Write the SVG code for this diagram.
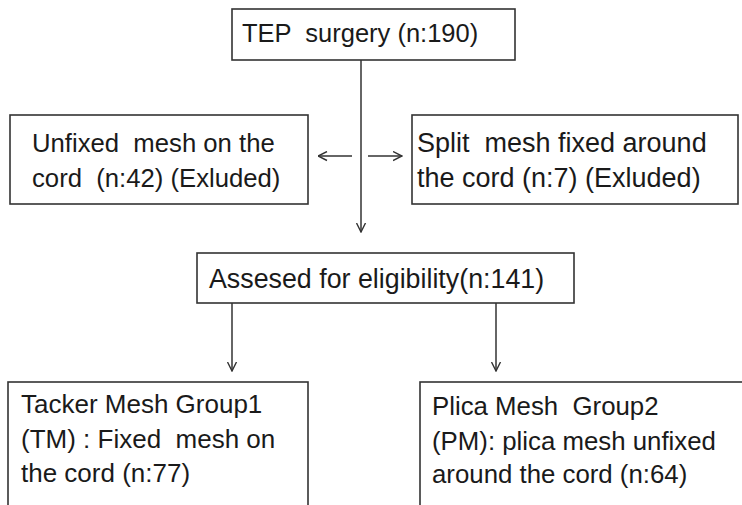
<svg xmlns="http://www.w3.org/2000/svg" width="742" height="505" viewBox="0 0 742 505">
<defs>
<style>
.box{fill:#fff;stroke:#333;stroke-width:1.6}
.t{font-family:"Liberation Sans",Arial,sans-serif;fill:#1a1a1a}
.c{stroke:#333;stroke-width:1.5;fill:none}
</style>
<marker id="ah" viewBox="0 0 10 10" refX="9.5" refY="5" markerWidth="10" markerHeight="11" markerUnits="userSpaceOnUse" orient="auto">
<path d="M0.5,0.5 L9.5,5 L0.5,9.5" fill="none" stroke="#333" stroke-width="1.4"/>
</marker>
</defs>
<rect width="742" height="505" fill="#fff"/>
<g id="connectors">
<line class="c" x1="361" y1="60" x2="361" y2="232" marker-end="url(#ah)"/>
<line class="c" x1="352" y1="156" x2="318" y2="156" marker-end="url(#ah)"/>
<line class="c" x1="368" y1="156" x2="402" y2="156" marker-end="url(#ah)"/>
<line class="c" x1="232" y1="303" x2="232" y2="371" marker-end="url(#ah)"/>
<line class="c" x1="496" y1="303" x2="496" y2="371" marker-end="url(#ah)"/>
</g>
<g id="tep">
<rect class="box" x="232" y="9" width="283" height="51"/>
<text class="t" x="242" y="42" font-size="25.5" xml:space="preserve">TEP  surgery (n:190)</text>
</g>
<g id="unfixed">
<rect class="box" x="10" y="115" width="298" height="89"/>
<text class="t" font-size="25.7" xml:space="preserve"><tspan x="32" y="152">Unfixed  mesh on the</tspan><tspan x="32" y="187">cord  (n:42) (Exluded)</tspan></text>
</g>
<g id="split">
<rect class="box" x="412" y="115" width="326" height="89"/>
<text class="t" font-size="27" xml:space="preserve"><tspan x="417" y="152">Split  mesh fixed around</tspan><tspan x="417" y="187">the cord (n:7) (Exluded)</tspan></text>
</g>
<g id="assessed">
<rect class="box" x="197" y="253" width="377" height="50"/>
<text class="t" x="209" y="288" font-size="26.8">Assesed for eligibility(n:141)</text>
</g>
<g id="tacker">
<rect class="box" x="8" y="382" width="300" height="130"/>
<text class="t" font-size="26" xml:space="preserve"><tspan x="21" y="413">Tacker Mesh Group1</tspan><tspan x="21" y="448">(TM) : Fixed  mesh on</tspan><tspan x="21" y="482">the cord (n:77)</tspan></text>
</g>
<g id="plica">
<rect class="box" x="420" y="382" width="330" height="130"/>
<text class="t" font-size="25.8" xml:space="preserve"><tspan x="432" y="415">Plica Mesh  Group2</tspan><tspan x="432" y="450">(PM): plica mesh unfixed</tspan><tspan x="432" y="483">around the cord (n:64)</tspan></text>
</g>
</svg>
